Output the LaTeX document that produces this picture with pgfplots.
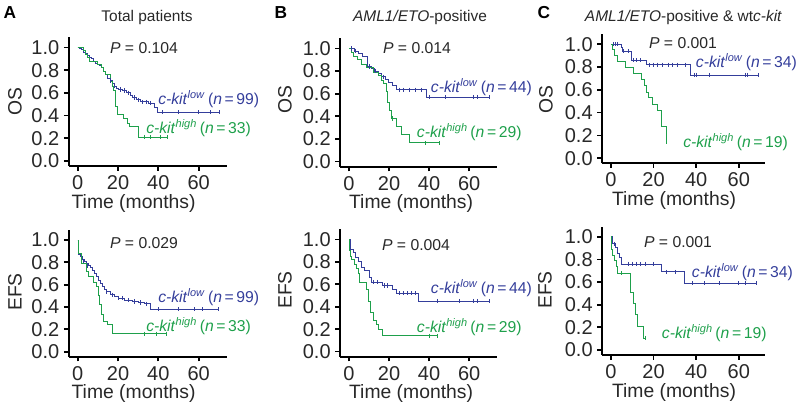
\documentclass[border=0pt]{standalone}
\usepackage{fontspec}
\setmainfont{Liberation Sans}
\usepackage{pgfplots}
\pgfplotsset{compat=1.18}
\definecolor{kmblue}{RGB}{52,62,155}
\definecolor{kmgreen}{RGB}{30,160,75}
\definecolor{txt}{RGB}{40,40,40}
\newcommand\ck[3]{\textit{c-kit}\textsuperscript{\textit{#1}}\,(\textit{n}\,=\,#2)}
\pgfplotsset{
 km/.style={scale only axis, anchor=south west, clip=false,
  axis x line=bottom, axis y line=left,
  axis line style={line width=1.3pt,-,black},
  xmin=-4.5, xmax=73.9, ymin=-0.045, ymax=1.09,
  xtick={0,20,40,60}, ytick={0,0.2,0.4,0.6,0.8,1.0},
  tick align=outside, major tick length=3.5pt,
  major tick style={line width=1.3pt,black},
  tick label style={font=\fontsize{15}{17}\selectfont, text=txt},
  yticklabel style={/pgf/number format/.cd, fixed, fixed zerofill, precision=1},
  /pgf/number format/assume math mode=true,
 },
 bl/.style={const plot, color=kmblue, line width=0.7pt, mark=none},
 gr/.style={const plot, color=kmgreen, line width=0.7pt, mark=none},
 bc/.style={only marks, mark=|, mark size=1.6pt, color=kmblue, mark options={draw=kmblue, line width=0.5pt}},
 gc/.style={only marks, mark=|, mark size=1.6pt, color=kmgreen, mark options={draw=kmgreen, line width=0.5pt}},
}
\tikzset{xl/.style={anchor=north, inner sep=0pt, yshift=-21pt, font=\fontsize{14.5}{16}\selectfont, text=txt}}
\begin{document}
\begin{tikzpicture}
\useasboundingbox (0,0) rectangle (600pt,310.5pt);
% ---------- A OS
\begin{axis}[km, at={(51.5pt,186pt)}, width=118.5pt, height=96.5pt]
\addplot[bl] coordinates {(0,1)(1,0.99)(2,0.98)(3,0.96)(4,0.95)(5,0.93)(6,0.91)(7,0.90)(8,0.88)(9,0.86)(10,0.85)(11,0.84)(12,0.82)(13,0.79)(14,0.76)(15,0.73)(16,0.71)(17,0.68)(18,0.66)(19,0.64)(20,0.63)(22,0.62)(24,0.60)(26,0.58)(27,0.56)(29,0.54)(31,0.52)(35,0.51)(38,0.47)(39.5,0.43)(70.5,0.43)};
\addplot[bc] coordinates {(16,0.71)(18,0.66)(21,0.63)(23,0.62)(25,0.60)(28,0.56)(30,0.54)(32,0.52)(34,0.52)(36,0.51)(42,0.43)(50,0.43)(60,0.43)(66,0.43)(70.5,0.43)};
\addplot[gr] coordinates {(0,1)(3,0.97)(4,0.94)(5,0.91)(6,0.88)(10,0.85)(12,0.82)(13,0.79)(14,0.76)(16,0.70)(17,0.66)(17.8,0.62)(18.7,0.48)(19.9,0.41)(22.9,0.37)(24.5,0.33)(25.5,0.30)(30,0.21)(44.5,0.21)};
\addplot[gc] coordinates {(33,0.21)(36,0.21)(41,0.21)(44.5,0.21)};
\node[xl] at (axis cs:27.7,-0.045) {Time (months)};
\end{axis}
% ---------- A EFS
\begin{axis}[km, at={(51.5pt,43pt)}, width=118.5pt, height=95pt]
\addplot[bl] coordinates {(0,1)(0.5,0.87)(1.5,0.85)(2.5,0.83)(3.5,0.81)(4.5,0.79)(5.5,0.77)(6.5,0.75)(7.5,0.73)(8.5,0.70)(9.5,0.67)(10.5,0.64)(11.5,0.61)(12.5,0.58)(13.5,0.56)(14.5,0.54)(16,0.51)(18,0.49)(20,0.48)(23,0.46)(27,0.45)(30,0.44)(33,0.43)(36,0.38)(70,0.38)};
\addplot[bc] coordinates {(3,0.81)(5,0.77)(14,0.54)(17,0.51)(20,0.48)(22,0.48)(25,0.46)(28,0.45)(31,0.44)(34,0.43)(40,0.38)(50,0.38)(58,0.38)(62,0.38)(70,0.38)};
\addplot[gr] coordinates {(0,1)(0.3,0.88)(2,0.79)(4.5,0.72)(5.5,0.67)(8,0.62)(9.5,0.58)(10.3,0.50)(11,0.42)(12,0.33)(13,0.27)(15,0.24)(17.3,0.16)(44,0.16)};
\addplot[gc] coordinates {(33,0.16)(39,0.16)(44,0.16)};
\node[xl] at (axis cs:27.7,-0.045) {Time (months)};
\end{axis}
% ---------- B OS
\begin{axis}[km, at={(255pt,185.5pt)}, width=117.75pt, height=96.3pt]
\addplot[bl] coordinates {(0,1)(2.6,0.977)(4.6,0.955)(6.6,0.93)(9.2,0.84)(11,0.82)(12.5,0.80)(14.5,0.78)(16,0.75)(18,0.73)(19.5,0.70)(21.5,0.67)(23.5,0.635)(38.5,0.57)(70,0.57)};
\addplot[bc] coordinates {(1,1)(3,0.977)(10,0.84)(13,0.80)(17,0.75)(25,0.635)(27,0.635)(30,0.635)(33,0.635)(36,0.635)(40,0.57)(48,0.57)(62,0.57)(64,0.57)(70,0.57)};
\addplot[gr] coordinates {(0,1)(1,0.965)(2,0.93)(4,0.90)(6,0.86)(8.5,0.83)(12,0.79)(14.5,0.76)(16,0.72)(17,0.69)(18.5,0.62)(19,0.52)(20,0.45)(21,0.38)(23.5,0.31)(26,0.24)(30,0.165)(45,0.165)};
\addplot[gc] coordinates {(21.5,0.38)(38,0.165)(45,0.165)};
\node[xl] at (axis cs:31,-0.045) {Time (months)};
\end{axis}
% ---------- B EFS
\begin{axis}[km, at={(255pt,43pt)}, width=117.75pt, height=95.5pt]
\addplot[bl] coordinates {(0,1)(0.5,0.91)(2.2,0.88)(3,0.84)(4.6,0.80)(6,0.75)(7.6,0.72)(10.3,0.66)(11.1,0.62)(16.9,0.59)(21.9,0.55)(23.5,0.52)(34.8,0.45)(70,0.45)};
\addplot[bc] coordinates {(12,0.62)(14,0.62)(17.5,0.59)(19,0.59)(25,0.52)(27,0.52)(29,0.52)(31,0.52)(33,0.52)(44,0.45)(55,0.45)(62,0.45)(64,0.45)(70,0.45)};
\addplot[gr] coordinates {(0,1)(0.2,0.90)(0.5,0.85)(1.3,0.82)(2.6,0.78)(3.8,0.74)(4.6,0.70)(5.4,0.62)(8.9,0.55)(9.8,0.45)(10.8,0.35)(12,0.28)(13.6,0.24)(14.8,0.20)(16.6,0.14)(44,0.14)};
\addplot[gc] coordinates {(40,0.14)(44,0.14)};
\node[xl] at (axis cs:31,-0.045) {Time (months)};
\end{axis}
% ---------- C OS
\begin{axis}[km, at={(451.5pt,188pt)}, width=122.25pt, height=97pt, xmin=-4.2, xmax=72.3]
\addplot[bl] coordinates {(0,1)(4.7,0.97)(5.5,0.94)(9.4,0.86)(16.8,0.82)(37.5,0.73)(69,0.73)};
\addplot[bc] coordinates {(1,1)(2,1)(3,1)(6,0.94)(8,0.94)(10.5,0.86)(12,0.86)(14,0.86)(18,0.82)(20,0.82)(22,0.82)(24,0.82)(27,0.82)(29,0.82)(31,0.82)(35,0.82)(39,0.73)(40,0.73)(46,0.73)(63,0.73)(64,0.73)(69,0.73)};
\addplot[gr] coordinates {(0,1)(0.5,0.95)(1.6,0.90)(3.2,0.85)(6.6,0.80)(10.5,0.74)(14.4,0.69)(15.5,0.64)(16.5,0.58)(17.5,0.53)(19.6,0.47)(21.6,0.42)(23.5,0.28)(26,0.14)(26.2,0.14)};
\addplot[gc] coordinates {(26.2,0.14)};
\node[xl] at (axis cs:29.6,-0.045) {Time (months)};
\end{axis}
% ---------- C EFS
\begin{axis}[km, at={(451.5pt,44.25pt)}, width=122.25pt, height=96.2pt, xmin=-4.2, xmax=72.3]
\addplot[bl] coordinates {(0,1)(0.8,0.94)(1.9,0.91)(3.1,0.85)(3.9,0.82)(5,0.76)(23.7,0.69)(34.5,0.59)(68,0.59)};
\addplot[bc] coordinates {(1.5,0.94)(8,0.76)(10,0.76)(12,0.76)(14,0.76)(16,0.76)(20,0.76)(26,0.69)(30,0.69)(38,0.59)(44,0.59)(51,0.59)(60,0.59)(63,0.59)(68,0.59)};
\addplot[gr] coordinates {(0,1)(0.2,0.89)(0.8,0.84)(1.5,0.79)(2.5,0.74)(3.2,0.68)(9.3,0.51)(10.4,0.41)(11.7,0.31)(12.5,0.21)(15.1,0.105)(16.2,0.105)};
\addplot[gc] coordinates {(5,0.68)(16.2,0.105)};
\node[xl] at (axis cs:29.6,-0.045) {Time (months)};
\end{axis}
% ---------- texts (px coordinates, origin top-left)
\begin{scope}[x=0.75pt, y=-0.75pt, shift={(0pt,310.5pt)}]
\tikzset{lt/.style={font=\fontsize{13}{15}\selectfont\bfseries, text=black, inner sep=0pt},
 tt/.style={font=\fontsize{11.6}{13}\selectfont, text=txt, inner sep=0pt},
 pv/.style={font=\fontsize{11.8}{13}\selectfont, text=txt, inner sep=0pt},
 yl/.style={font=\fontsize{14.5}{16}\selectfont, text=txt, rotate=90, inner sep=0pt},
 cb/.style={font=\fontsize{11.8}{13}\selectfont, text=kmblue, anchor=west, inner sep=0pt},
 cg/.style={font=\fontsize{11.8}{13}\selectfont, text=kmgreen, anchor=west, inner sep=0pt}}
\node[lt] at (10,13) {A};
\node[lt] at (281,13) {B};
\node[lt] at (544,13) {C};
\node[tt] at (147,18) {Total patients};
\node[tt] at (420,18) {\textit{AML1/ETO}-positive};
\node[tt] at (683.5,18) {\textit{AML1/ETO}-positive \& wt\textit{c-kit}};
\node[pv] at (144,48) {\textit{P} = 0.104};
\node[pv] at (144,243) {\textit{P} = 0.029};
\node[pv] at (417,48) {\textit{P} = 0.014};
\node[pv] at (416,245) {\textit{P} = 0.004};
\node[pv] at (683,43) {\textit{P} = 0.001};
\node[pv] at (678,242) {\textit{P} = 0.001};
\node[yl] at (15,102) {OS};
\node[yl] at (15,292) {EFS};
\node[yl] at (285,100) {OS};
\node[yl] at (285,290) {EFS};
\node[yl] at (546,100) {OS};
\node[yl] at (545,290) {EFS};
\node[cb] at (158,99) {\ck{low}{99}{}};
\node[cg] at (146,128) {\ck{high}{33}{}};
\node[cb] at (158,297) {\ck{low}{99}{}};
\node[cg] at (146,326) {\ck{high}{33}{}};
\node[cb] at (430.7,87) {\ck{low}{44}{}};
\node[cg] at (416.7,132) {\ck{high}{29}{}};
\node[cb] at (430.7,288) {\ck{low}{44}{}};
\node[cg] at (416.7,327) {\ck{high}{29}{}};
\node[cb] at (695.7,62) {\ck{low}{34}{}};
\node[cg] at (683,142) {\ck{high}{19}{}};
\node[cb] at (691.7,272) {\ck{low}{34}{}};
\node[cg] at (661.7,333) {\ck{high}{19}{}};
\end{scope}
\end{tikzpicture}
\end{document}
